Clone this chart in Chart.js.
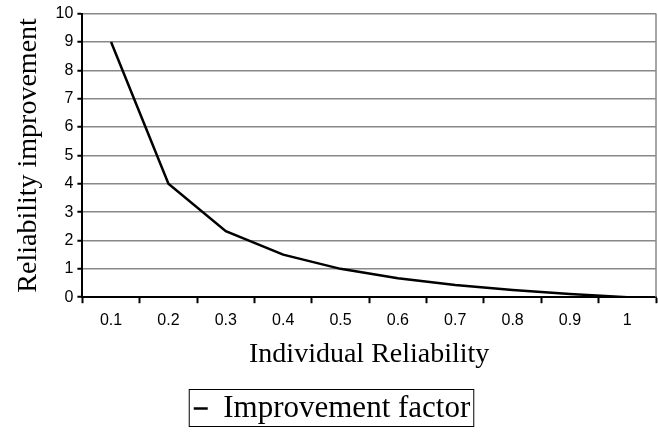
<!DOCTYPE html>
<html>
<head>
<meta charset="utf-8">
<script src="https://cdn.jsdelivr.net/npm/chart.js@4"></script>
<style>
  html, body { margin: 0; padding: 0; background: #fff; }
  #wrap { width: 658px; height: 434px; }
</style>
</head>
<body>
<div id="wrap"><canvas id="chart"></canvas></div>
<script>
const categories = ['0.1', '0.2', '0.3', '0.4', '0.5', '0.6', '0.7', '0.8', '0.9', '1'];
const improvement = [9, 4, 2.33, 1.5, 1, 0.67, 0.43, 0.25, 0.11, 0];

// box round the legend and the gray right edge of the plot
const frame = {
  id: 'frame',
  afterDraw(chart) {
    const ctx = chart.ctx;
    const a = chart.chartArea;
    ctx.save();
    ctx.strokeStyle = '#888';
    ctx.lineWidth = 1.5;
    ctx.beginPath();
    ctx.moveTo(a.right, a.top);
    ctx.lineTo(a.right, a.bottom);
    ctx.stroke();
    const lg = chart.legend;
    if (lg && lg.legendHitBoxes.length) {
      const hb = lg.legendHitBoxes[0];
      ctx.strokeStyle = '#000';
      ctx.lineWidth = 1;
      ctx.strokeRect(hb.left - 4.5, hb.top - 3.5, hb.width + 8, hb.height + 6);
    }
    ctx.restore();
  }
};

new Chart(document.getElementById('chart'), {
  type: 'line',
  data: {
    labels: categories,
    datasets: [{
      label: 'Improvement factor',
      data: improvement,
      borderColor: '#000',
      backgroundColor: '#000',
      borderWidth: 2.5,
      pointRadius: 0,
      tension: 0,
      fill: false
    }]
  },
  options: {
    responsive: true,
    maintainAspectRatio: false,
    animation: false,
    layout: { padding: { top: -1, right: 2, left: 8, bottom: 0 } },
    plugins: {
      legend: {
        position: 'bottom',
        labels: {
          usePointStyle: true,
          pointStyle: 'line',
          pointStyleWidth: 14,
          boxHeight: 20,
          color: '#000',
          font: { family: 'Liberation Serif', size: 31 },
          padding: 3
        }
      },
      tooltip: { enabled: false }
    },
    scales: {
      x: {
        offset: true,
        grid: { offset: true, drawOnChartArea: false, color: '#000', tickLength: 6, tickWidth: 2 },
        border: { color: '#000', width: 2 },
        ticks: { color: '#000', font: { family: 'Liberation Sans', size: 16 }, padding: 8, maxRotation: 0 },
        title: {
          display: true,
          text: 'Individual Reliability',
          color: '#000',
          font: { family: 'Liberation Serif', size: 28 },
          padding: { top: -1, bottom: 19 }
        }
      },
      y: {
        min: 0,
        max: 10,
        ticks: { stepSize: 1, color: '#000', font: { family: 'Liberation Sans', size: 16 }, padding: 4 },
        grid: { color: '#888', lineWidth: 1.5, tickColor: '#000', tickLength: 5, tickWidth: 2 },
        border: { color: '#000', width: 2 },
        title: {
          display: true,
          text: 'Reliability improvement',
          color: '#000',
          font: { family: 'Liberation Serif', size: 28 },
          padding: { bottom: 6 }
        }
      }
    }
  },
  plugins: [frame]
});
</script>
</body>
</html>
